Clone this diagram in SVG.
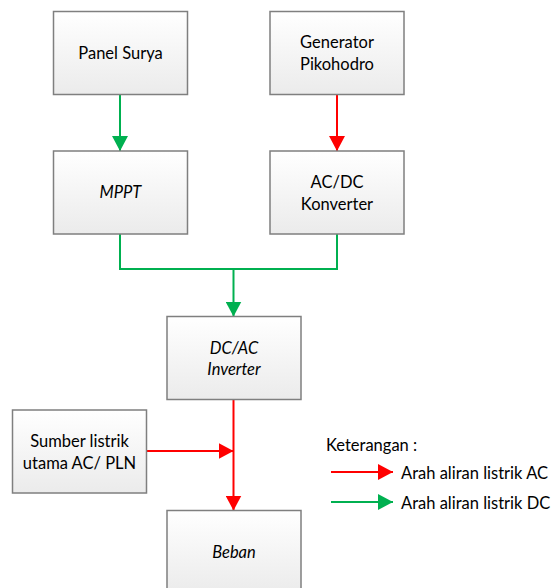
<svg xmlns="http://www.w3.org/2000/svg" width="553" height="588" viewBox="0 0 553 588">
  <defs>
    <linearGradient id="boxFill" x1="0" y1="0" x2="0" y2="1">
      <stop offset="0" stop-color="#ffffff"/>
      <stop offset="1" stop-color="#ebebeb"/>
    </linearGradient>
    <marker id="arrowGreen" markerUnits="userSpaceOnUse" markerWidth="16" markerHeight="16" refX="15" refY="8" orient="auto" viewBox="0 0 16 16">
      <path d="M0,0 L15,8 L0,16 Z" fill="#00b050"/>
    </marker>
    <marker id="arrowRed" markerUnits="userSpaceOnUse" markerWidth="16" markerHeight="16" refX="15" refY="8" orient="auto" viewBox="0 0 16 16">
      <path d="M0,0 L15,8 L0,16 Z" fill="#ff0000"/>
    </marker>
  </defs>
  <style>
    .box { fill: url(#boxFill); stroke: #7f7f7f; stroke-width: 1.5; }
    .label { font-family: Lato, "Open Sans", "Liberation Sans", sans-serif; font-size: 16.5px; fill: #000; text-anchor: middle; }
    .legend { font-family: Lato, "Open Sans", "Liberation Sans", sans-serif; font-size: 16.5px; fill: #000; }
    .it { font-style: italic; }
    .dc { fill: none; stroke: #00b050; stroke-width: 2; }
    .ac { fill: none; stroke: #ff0000; stroke-width: 2; }
  </style>

  <rect width="553" height="588" fill="#ffffff"/>

  <!-- connectors -->
  <g id="connectors">
    <path class="dc" d="M120,94 V151" marker-end="url(#arrowGreen)"/>
    <path class="ac" d="M337,94 V151" marker-end="url(#arrowRed)"/>
    <path class="dc" d="M120,234 V269 H337 V234"/>
    <path class="dc" d="M233.5,269 V316.5" marker-end="url(#arrowGreen)"/>
    <path class="ac" d="M233.5,399 V510.5" marker-end="url(#arrowRed)"/>
    <path class="ac" d="M146,451 H233.5" marker-end="url(#arrowRed)"/>
  </g>

  <!-- blocks -->
  <g id="panel-surya">
    <rect class="box" x="53.5" y="11.5" width="134" height="83"/>
    <text class="label" x="120.5" y="58.5">Panel Surya</text>
  </g>
  <g id="generator-pikohodro">
    <rect class="box" x="270" y="11.5" width="134" height="83"/>
    <text class="label" x="337" y="48">Generator</text>
    <text class="label" x="337" y="69.5">Pikohodro</text>
  </g>
  <g id="mppt">
    <rect class="box" x="53.5" y="151" width="134" height="83"/>
    <text class="label it" x="120.5" y="198">MPPT</text>
  </g>
  <g id="ac-dc-konverter">
    <rect class="box" x="270" y="151" width="134" height="83"/>
    <text class="label" x="337" y="188">AC/DC</text>
    <text class="label" x="337" y="209.5">Konverter</text>
  </g>
  <g id="dc-ac-inverter">
    <rect class="box" x="167" y="316.5" width="134" height="83"/>
    <text class="label it" x="234" y="354">DC/AC</text>
    <text class="label it" x="234" y="375">Inverter</text>
  </g>
  <g id="sumber-pln">
    <rect class="box" x="12.5" y="410" width="134" height="83"/>
    <text class="label" x="79.5" y="447">Sumber listrik</text>
    <text class="label" x="79.5" y="468.5">utama AC/ PLN</text>
  </g>
  <g id="beban">
    <rect class="box" x="167" y="510.5" width="134" height="83"/>
    <text class="label it" x="234" y="558">Beban</text>
  </g>

  <!-- legend -->
  <g id="legend">
    <text class="legend" x="326" y="451">Keterangan :</text>
    <path class="ac" d="M331,472 H393" marker-end="url(#arrowRed)"/>
    <text class="legend" x="401" y="479">Arah aliran listrik AC</text>
    <path class="dc" d="M331,502 H393" marker-end="url(#arrowGreen)"/>
    <text class="legend" x="401" y="509">Arah aliran listrik DC</text>
  </g>
</svg>
